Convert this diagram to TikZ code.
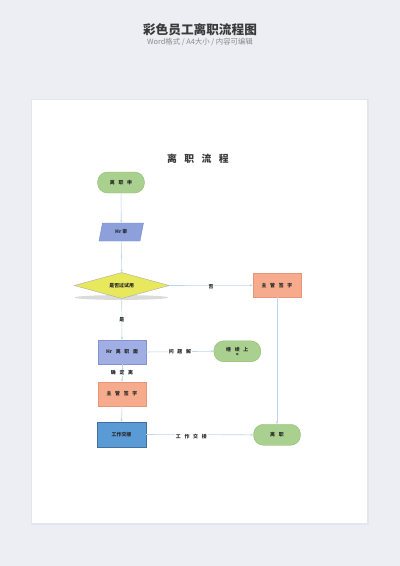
\documentclass[tikz,border=0pt]{standalone}
\usepackage{fontspec}
\setmainfont{Noto Sans CJK SC}
\usetikzlibrary{shapes.geometric,arrows.meta}
\definecolor{bgc}{HTML}{ECEEF3}
\definecolor{papsh}{HTML}{E2E5EB}
\definecolor{lineblue}{HTML}{BDD7EE}
\definecolor{gfill}{HTML}{A9D08E}
\definecolor{gdraw}{HTML}{8DBA6E}
\definecolor{ofill}{HTML}{F5AB8C}
\definecolor{odraw}{HTML}{E8957A}
\definecolor{lfill}{HTML}{A0AEE3}
\definecolor{ldraw}{HTML}{8193D2}
\definecolor{pfill}{HTML}{8EA0DC}
\definecolor{pdraw}{HTML}{7086CA}
\definecolor{bfill}{HTML}{5B9BD5}
\definecolor{bdraw}{HTML}{41719C}
\definecolor{yfill}{HTML}{E8E85C}
\definecolor{ydraw}{HTML}{A6A6A6}
\definecolor{ttl}{HTML}{3A3A3A}
\definecolor{sub}{HTML}{8A8A8A}
\definecolor{ntext}{HTML}{262626}
\newcommand\gp{\hspace{0.75em}}
\begin{document}
\begin{tikzpicture}[x=0.5mm,y=-0.5mm,
  nt/.style={font=\fontsize{7}{8}\selectfont\bfseries, text=ntext, inner sep=0pt},
  term/.style={nt, rectangle, rounded corners=5mm, draw=gdraw, fill=gfill, line width=0.5pt, minimum width=23.5mm, minimum height=10.5mm},
  proc/.style={nt, rectangle, line width=0.5pt, minimum width=24mm, minimum height=12mm},
  lbl/.style={nt, fill=white, inner sep=1.2pt},
  conn/.style={draw=lineblue, line width=0.8pt, -{Stealth[length=1.5mm,width=1.2mm]}}]
\useasboundingbox (0,0) rectangle (400,566);
\fill[bgc] (0,0) rectangle (400,566);
\fill[papsh] (30.5,98.5) rectangle (368.5,524.5);
\fill[white] (32,100) rectangle (367,523);
% header
\node[font=\fontsize{18}{20}\selectfont\bfseries, text=ttl] (h1) at (200,29.5) {彩色员工离职流程图};
\node[font=\fontsize{10.5}{12}\selectfont, text=sub] (h2) at (200,42.5) {Word格式 / A4大小 / 内容可编辑};
\node[font=\fontsize{14}{16}\selectfont\bfseries, text=ttl] (title) at (198,159) {离\gp 职\gp 流\gp 程};
% shapes
\node[term] (start) at (121,182.5) {离\gp 职\gp 申};
\fill[pfill, draw=pdraw, line width=0.5pt] (102.5,223) -- (143.5,223) -- (140,241) -- (99,241) -- cycle;
\node[nt, minimum width=20mm, minimum height=9mm] (hr) at (121.3,232) {Hr 审};
\fill[gray, opacity=0.28] (121.5,297.5) ellipse [x radius=47, y radius=2.4];
\node[nt, diamond, shape aspect=3.6, draw=ydraw, fill=yfill, line width=0.5pt, minimum width=47.5mm, minimum height=13mm] (dec) at (121.7,285.5) {是否过试用};
\node[proc, draw=odraw, fill=ofill] (sign1) at (277,285.3) {主\gp 管\gp 签\gp 字};
\node[proc, draw=ldraw, fill=lfill] (face) at (122,352) {Hr\gp 离\gp 职\gp 面};
\node[term, align=center] (cont) at (237.3,351.3) {继\gp 续\gp 上\\[-1.5pt]{\fontsize{3.5}{4}\selectfont 班}};
\node[proc, draw=odraw, fill=ofill] (sign2) at (122,394) {主\gp 管\gp 签\gp 字};
\node[proc, draw=bdraw, fill=bfill, minimum width=24.5mm, minimum height=12.5mm] (hand) at (121.5,434.5) {工作交接};
\node[term] (leave) at (277,434.8) {离\gp 职};
% connectors
\draw[conn] (start) -- (hr.north |- 223,223);
\draw[conn] (121.3,241) coordinate (hrb) -- (dec.north);
\draw[conn] (dec.east) -- node[lbl, yshift=-2.5pt] (no) {否} (sign1.west);
\draw[conn] (dec.south) -- node[lbl] (yes) {是} (face.north);
\draw[conn] (face.east) -- node[lbl] (q) {问\gp 题\gp 解} (cont.west);
\draw[conn] (face.south) -- node[lbl] (conf) {确\gp 定\gp 离} (sign2.north);
\draw[conn] (sign2.south) -- (hand.north);
\draw[conn] (hand.east) -- node[lbl, xshift=-12pt, yshift=-3pt] (hl) {工\gp 作\gp 交\gp 接} (leave.west);
\draw[conn] (sign1.south) -- (leave.north);
\end{tikzpicture}
\end{document}
